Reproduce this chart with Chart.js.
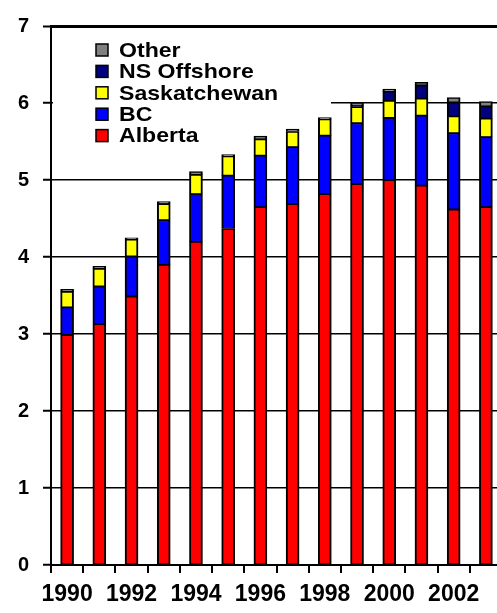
<!DOCTYPE html>
<html>
<head>
<meta charset="utf-8">
<script src="https://cdn.jsdelivr.net/npm/chart.js@4.4.1/dist/chart.umd.min.js"></script>
<style>
  html, body { margin: 0; padding: 0; background: #fff; overflow: hidden; }
  #wrap { width: 502px; height: 613px; }
</style>
</head>
<body>
<div id="wrap"><canvas id="gas-chart"></canvas></div>
<script>
// production by province
var years = ['1990', '1991', '1992', '1993', '1994', '1995', '1996', '1997', '1998', '1999', '2000', '2001', '2002', '2003'];
var alberta      = [2.99, 3.13, 3.49, 3.90, 4.20, 4.37, 4.65, 4.69, 4.82, 4.95, 5.00, 4.93, 4.62, 4.65];
var bc           = [0.36, 0.49, 0.52, 0.58, 0.62, 0.69, 0.67, 0.74, 0.76, 0.79, 0.81, 0.91, 0.99, 0.91];
var saskatchewan = [0.20, 0.23, 0.22, 0.21, 0.25, 0.25, 0.21, 0.20, 0.21, 0.21, 0.22, 0.22, 0.22, 0.24];
var nsOffshore   = [0, 0, 0, 0, 0, 0, 0, 0, 0, 0.02, 0.12, 0.17, 0.18, 0.16];
var other        = [0.03, 0.03, 0.02, 0.03, 0.04, 0.02, 0.04, 0.03, 0.02, 0.03, 0.03, 0.04, 0.06, 0.06];
var yTicks = [0, 1, 2, 3, 4, 5, 6, 7];

var fontFamily = 'Arial, "Liberation Sans", sans-serif';
Chart.defaults.font.family = fontFamily;
Chart.defaults.color = '#000';

function series(label, data, color) {
    return {
        label: label,
        data: data,
        backgroundColor: color,
        borderColor: '#000',
        borderWidth: { left: 2, right: 2, top: 1.5, bottom: 1 },
        borderSkipped: false,
        barThickness: 13
    };
}

// legend drawn by hand: white box behind it hides the gridline, like the original
var boxLegend = {
    id: 'boxLegend',
    beforeDatasetsDraw: function (chart) {
        var ctx = chart.ctx;
        var area = chart.chartArea;
        ctx.save();
        ctx.fillStyle = '#fff';
        ctx.fillRect(area.left + 2, area.top + 3, 278, 88);
        ctx.restore();
    },
    afterDatasetsDraw: function (chart) {
        var ctx = chart.ctx;
        var sets = chart.data.datasets.slice().reverse();
        ctx.save();
        ctx.font = 'bold 21px ' + fontFamily;
        ctx.textBaseline = 'middle';
        sets.forEach(function (ds, i) {
            var y = 50 + i * 21.4;
            ctx.fillStyle = ds.backgroundColor;
            ctx.fillRect(96, y - 6, 12, 12);
            ctx.strokeStyle = '#000';
            ctx.lineWidth = 1.5;
            ctx.strokeRect(96, y - 6, 12, 12);
            ctx.fillStyle = '#000';
            ctx.save();
            ctx.translate(119, y + 1);
            ctx.scale(1.1, 1);
            ctx.fillText(ds.label, 0, 0);
            ctx.restore();
        });
        ctx.restore();
    }
};

var ctx = document.getElementById('gas-chart').getContext('2d');
var chart = new Chart(ctx, {
    type: 'bar',
    data: {
        labels: years,
        datasets: [
            series('Alberta', alberta, '#FF0000'),
            series('BC', bc, '#0000FF'),
            series('Saskatchewan', saskatchewan, '#FFFF00'),
            series('NS Offshore', nsOffshore, '#000080'),
            series('Other', other, '#808080')
        ]
    },
    options: {
        responsive: true,
        maintainAspectRatio: false,
        animation: false,
        layout: { padding: { top: 19, left: 0, right: 0, bottom: 0 } },
        plugins: {
            legend: { display: false },
            tooltip: { enabled: false }
        },
        scales: {
            x: {
                stacked: true,
                ticks: {
                    autoSkip: false,
                    maxRotation: 0,
                    padding: 8,
                    font: { size: 23, weight: 'bold' },
                    callback: function (value, index) {
                        return index % 2 === 0 ? this.getLabelForValue(value) : '';
                    }
                },
                grid: { drawOnChartArea: false, tickLength: 8, color: '#000', lineWidth: 2 },
                border: { color: '#000', width: 2 },
                afterFit: function (scale) { scale.height = 48; }
            },
            y: {
                stacked: true,
                min: yTicks[0],
                max: yTicks[yTicks.length - 1],
                afterBuildTicks: function (scale) {
                    scale.ticks = yTicks.map(function (v) { return { value: v }; });
                },
                ticks: { padding: 14, font: { size: 20, weight: 'bold' } },
                grid: {
                    color: '#000',
                    lineWidth: function (c) { return c.tick && c.tick.value === 7 ? 3 : 1.5; },
                    tickLength: 8,
                    tickColor: '#000',
                    tickWidth: 2
                },
                border: { color: '#000', width: 2 },
                afterFit: function (scale) { scale.width = 51; }
            }
        }
    },
    plugins: [boxLegend]
});
</script>
</body>
</html>
